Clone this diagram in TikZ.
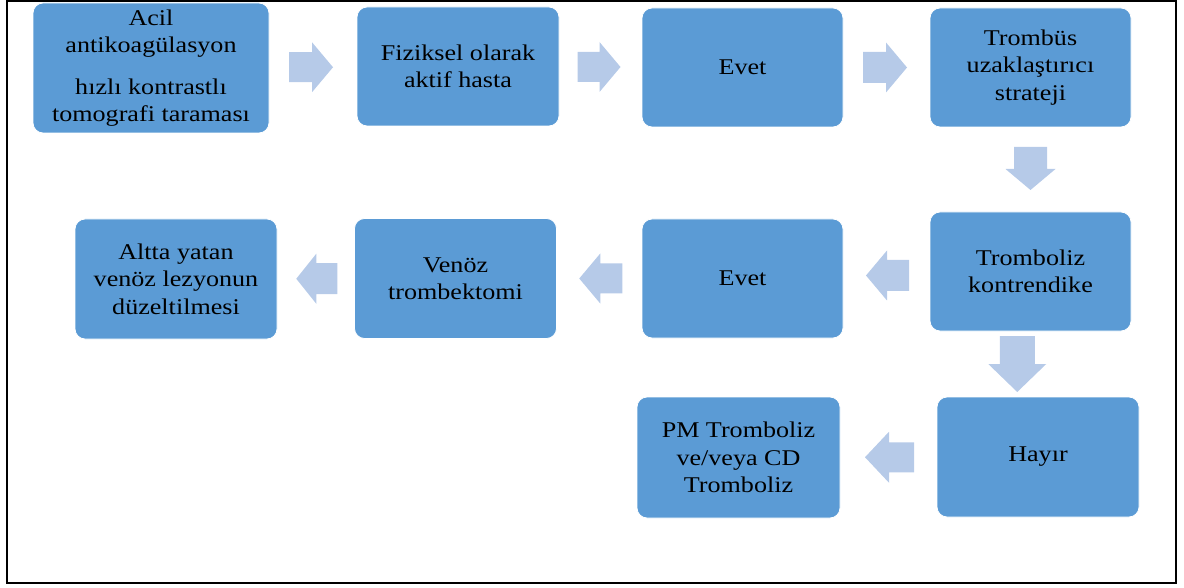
\documentclass[tikz,border=0pt]{standalone}
\usepackage{fontspec}
\setmainfont{Liberation Serif}[FakeStretch=1.16]
\usetikzlibrary{calc}
\definecolor{boxblue}{RGB}{91,155,213}
\definecolor{arrowblue}{RGB}{182,202,232}
\tikzset{
  stepbox/.style={rectangle, rounded corners=10pt, fill=boxblue, draw=white, line width=0.8pt,
    inner sep=0pt, align=center, text=black,
    font=\fontsize{22.5}{27.5}\selectfont},
  arrowfill/.style={fill=arrowblue}
}
% #1 position, #2 angle, #3 length, #4 head length, #5 head width, #6 shaft width
\newcommand\blockarrow[6]{%
  \fill[arrowfill, shift={#1}, rotate=#2]
    ({-#3/2},{-#6/2}) -- ({#3/2-#4},{-#6/2}) -- ({#3/2-#4},{-#5/2}) -- ({#3/2},0)
    -- ({#3/2-#4},{#5/2}) -- ({#3/2-#4},{#6/2}) -- ({-#3/2},{#6/2}) -- cycle;}
\begin{document}
\begin{tikzpicture}[x=1pt,y=-1pt]
\useasboundingbox (0,0) rectangle (1184,588);
\draw[line width=2pt] (7,1) rectangle (1176,583);

% row 1
\node[stepbox, minimum width=236pt, minimum height=130pt] (A) at (151,68)
  {Acil\\antikoagülasyon\\[14pt]hızlı kontrastlı\\tomografi taraması};
\node[stepbox, minimum width=202pt, minimum height=119pt] (B) at (458,66.5)
  {Fiziksel olarak\\aktif hasta};
\node[stepbox, minimum width=201pt, minimum height=119pt] (C) at (742.5,67.5) {Evet};
\node[stepbox, minimum width=201pt, minimum height=119pt] (D) at (1030.5,67.5)
  {Trombüs\\uzaklaştırıcı\\strateji};
% row 2
\node[stepbox, minimum width=201pt, minimum height=119pt] (E) at (1030.5,271.5)
  {Tromboliz\\kontrendike};
\node[stepbox, minimum width=201pt, minimum height=119pt] (F) at (742.5,278.5) {Evet};
\node[stepbox, minimum width=202pt, minimum height=120pt] (G) at (455.5,278.5)
  {Venöz\\trombektomi};
\node[stepbox, minimum width=202pt, minimum height=120pt] (H) at (176,279)
  {Altta yatan\\venöz lezyonun\\düzeltilmesi};
% row 3
\node[stepbox, minimum width=202pt, minimum height=120pt] (I) at (1038,457) {Hayır};
\node[stepbox, minimum width=203pt, minimum height=121pt] (J) at (738.5,457.5)
  {PM Tromboliz\\ve/veya CD\\Tromboliz};

% connectors (block arrows)
\blockarrow{($(A.east)!0.5!(B.west)+(-2,0)$)}{0}{44}{21}{50}{30}
\blockarrow{($(B.east)!0.5!(C.west)+(-1.5,0)$)}{0}{43}{21}{50}{30}
\blockarrow{($(C.east)!0.5!(D.west)+(-1.5,0)$)}{0}{44}{21}{50}{31}
\blockarrow{($(D.south)!0.5!(E.north)+(0,-1)$)}{-90}{43}{21}{50}{33}
\blockarrow{($(E.west)!0.5!(F.east)+(1,0.5)$)}{180}{43}{21}{50}{31}
\blockarrow{($(F.west)!0.5!(G.east)+(1.5,0)$)}{180}{43}{21}{50}{30}
\blockarrow{($(G.west)!0.5!(H.east)+(1,0)$)}{180}{41}{20}{50}{31}
\blockarrow{($(E.south)!0.5!(I.north)+(-17,0)$)}{-90}{56}{28}{58}{35}
\blockarrow{($(I.west)!0.5!(J.east)+(1,0)$)}{180}{49}{24}{51}{30}
\end{tikzpicture}
\end{document}
